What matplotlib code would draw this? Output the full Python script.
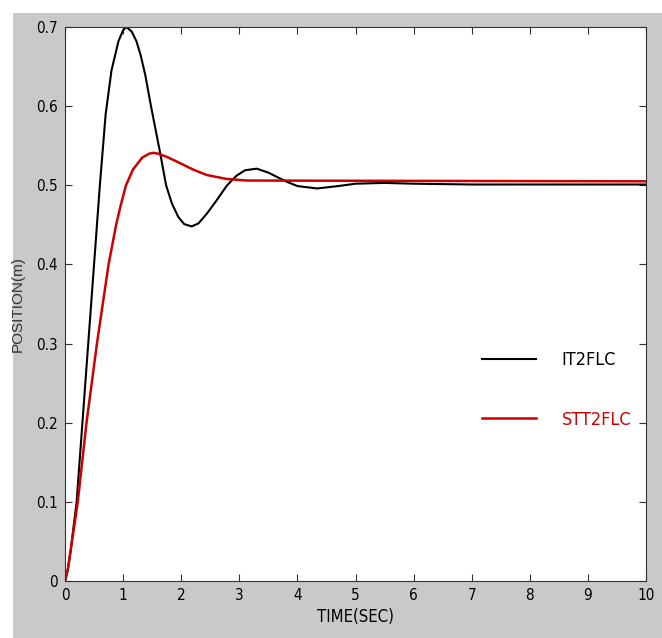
import matplotlib
matplotlib.use("Agg")
import matplotlib.pyplot as plt
from matplotlib.patches import Rectangle

# IT2FLC response (black)
t_it2 = [0, 0.05, 0.1, 0.2, 0.3, 0.4, 0.5, 0.6, 0.7, 0.8, 0.92, 1.0, 1.06, 1.15,
         1.23, 1.3, 1.38, 1.48, 1.64, 1.74, 1.84, 1.95, 2.05, 2.18, 2.3, 2.45, 2.6,
         2.79, 2.95, 3.1, 3.3, 3.5, 3.8, 4.0, 4.34, 4.7, 5.0, 5.5, 6.0, 7.0,
         8.0, 10.0]
y_it2 = [0, 0.015, 0.04, 0.10, 0.20, 0.30, 0.40, 0.50, 0.59, 0.645, 0.682, 0.696,
         0.70, 0.694, 0.682, 0.665, 0.64, 0.60, 0.54, 0.50, 0.477, 0.46, 0.451,
         0.448, 0.452, 0.465, 0.48, 0.50, 0.512, 0.519, 0.521, 0.516, 0.505,
         0.499, 0.496, 0.499, 0.502, 0.503, 0.502, 0.501, 0.501, 0.501]

# STT2FLC response (red)
t_stt2 = [0, 0.05, 0.1, 0.22, 0.37, 0.55, 0.75, 0.88, 0.96, 1.05, 1.17, 1.33,
          1.45, 1.52, 1.6, 1.75, 1.98, 2.2, 2.44, 2.78, 3.13, 10.0]
y_stt2 = [0, 0.015, 0.04, 0.10, 0.20, 0.30, 0.40, 0.45, 0.475, 0.50, 0.52, 0.535,
          0.540, 0.541, 0.540, 0.536, 0.528, 0.52, 0.513, 0.508, 0.506, 0.505]

x_ticks = list(range(0, 11))
y_ticks = [0, 0.1, 0.2, 0.3, 0.4, 0.5, 0.6, 0.7]

narrow = dict(family=['Liberation Sans Narrow', 'DejaVu Sans'], stretch='condensed')

fig = plt.figure(figsize=(6.62, 6.38), dpi=100)
fig.patch.set_facecolor('white')
fig.patches.append(Rectangle((13 / 662, 0), 1, 1 - 13 / 638, transform=fig.transFigure,
                             facecolor='#c9c9c9', edgecolor='none', zorder=-10))

ax = fig.add_axes([65 / 662, 57 / 638, 581 / 662, 554 / 638])
ax.plot(t_it2, y_it2, color='black', lw=1.5, label='IT2FLC')
ax.plot(t_stt2, y_stt2, color='#cc0000', lw=1.8, label='STT2FLC')

ax.set_xlim(0, 10)
ax.set_ylim(0, 0.7)
ax.set_xticks(x_ticks)
ax.set_yticks(y_ticks)
ax.set_xticklabels([str(v) for v in x_ticks], fontsize=11, **narrow)
ax.set_yticklabels(['0' if v == 0 else f'{v:g}' for v in y_ticks], fontsize=11, **narrow)
ax.tick_params(direction='in', top=True, right=True, length=5, color='#333333', pad=5)
for s in ax.spines.values():
    s.set_color('#333333')

ax.set_xlabel('TIME(SEC)', fontsize=12, labelpad=4, **narrow)
ax.set_ylabel('POSITION(m)', family='Liberation Sans', fontsize=11, color='#333333', labelpad=8)

leg = ax.legend(loc='center left', bbox_to_anchor=(0.69, 0.345), frameon=False,
                handlelength=3.0, labelspacing=2.3, handletextpad=1.4,
                prop=dict(size=13, **narrow), labelcolor='linecolor')

fig.savefig('out.png', dpi=100)
